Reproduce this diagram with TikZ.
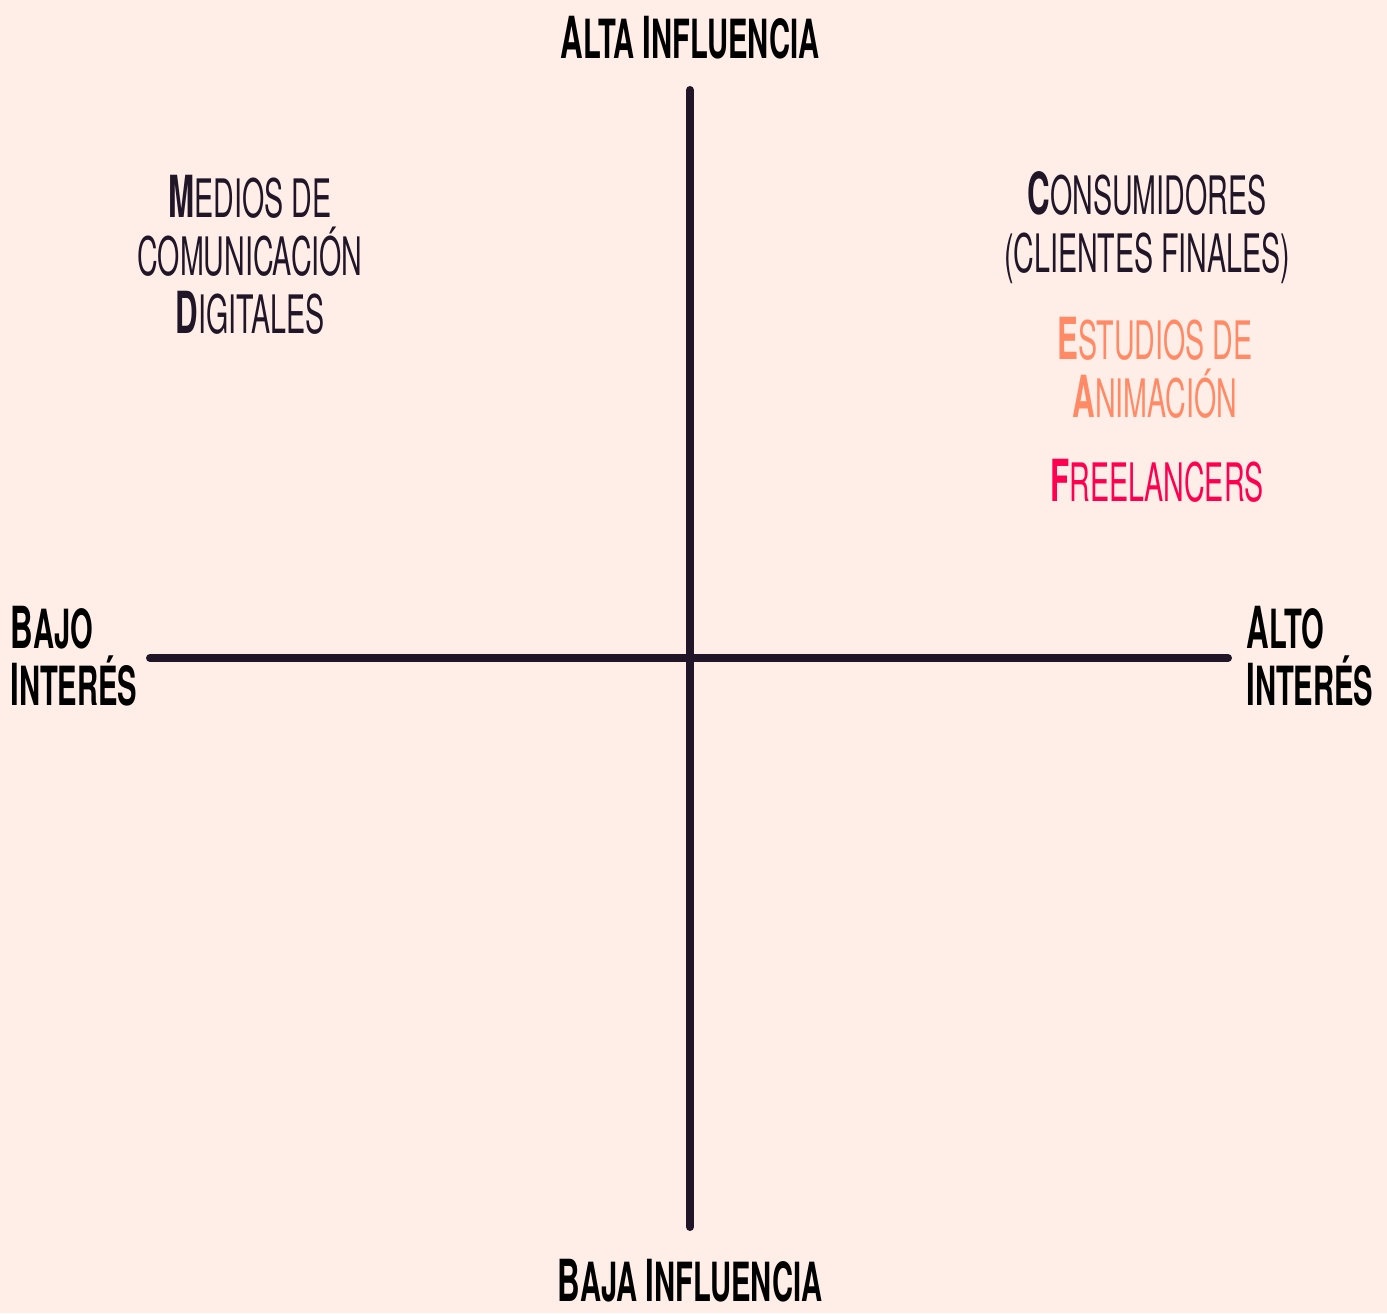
\documentclass[tikz,border=0pt]{standalone}
\usepackage{fontspec}
\setmainfont{TeX Gyre Heros}[FakeStretch=0.54]
\definecolor{bgpink}{HTML}{FFEEE8}
\definecolor{ink}{HTML}{201628}
\definecolor{salmon}{HTML}{FF8A65}
\definecolor{hotpink}{HTML}{FF0050}
\newcommand{\initcap}[1]{{\bfseries\fontsize{29}{29}\selectfont #1}}

\begin{document}
\begin{tikzpicture}
[
x=0.5pt,y=0.5pt,
axislabel/.style={inner sep=0pt,text=black,font=\bfseries\fontsize{27}{28.5}\selectfont,align=left},
stake/.style={inner sep=0pt,align=center,font=\fontsize{26.5}{29}\selectfont,text=#1},
axis/.style={ink,line width=4pt,line cap=round},
]
\fill[bgpink] (0,0) rectangle (1387,1313);

%Place the nodes
\coordinate (top) at (690,1223);
\coordinate (bottom) at (690,86);
\coordinate (left) at (150,655);
\coordinate (right) at (1228,655);
\node[axislabel] (hi) at (690,1275) {\initcap{A}LTA \initcap{I}NFLUENCIA};
\node[axislabel] (lo) at (690,32) {\initcap{B}AJA \initcap{I}NFLUENCIA};
\node[axislabel,anchor=west] (li) at (10,657) {\initcap{B}AJO\\\initcap{I}NTERÉS};
\node[axislabel,anchor=west] (ri) at (1246,657) {\initcap{A}LTO\\\initcap{I}NTERÉS};
\node[stake=ink] (medios) at (250,1058) {\initcap{M}EDIOS DE\\COMUNICACIÓN\\\initcap{D}IGITALES};
\node[stake=ink] (consum) at (1147,1085) {\initcap{C}ONSUMIDORES\\(CLIENTES FINALES)};
\node[stake=salmon] (estud) at (1155,945) {\initcap{E}STUDIOS DE\\\initcap{A}NIMACIÓN};
\node[stake=hotpink] (free) at (1157,832) {\initcap{F}REELANCERS};

%Draw the connections
\draw[axis] (top) -- (bottom);
\draw[axis] (left) -- (right);
\end{tikzpicture}
\end{document}
